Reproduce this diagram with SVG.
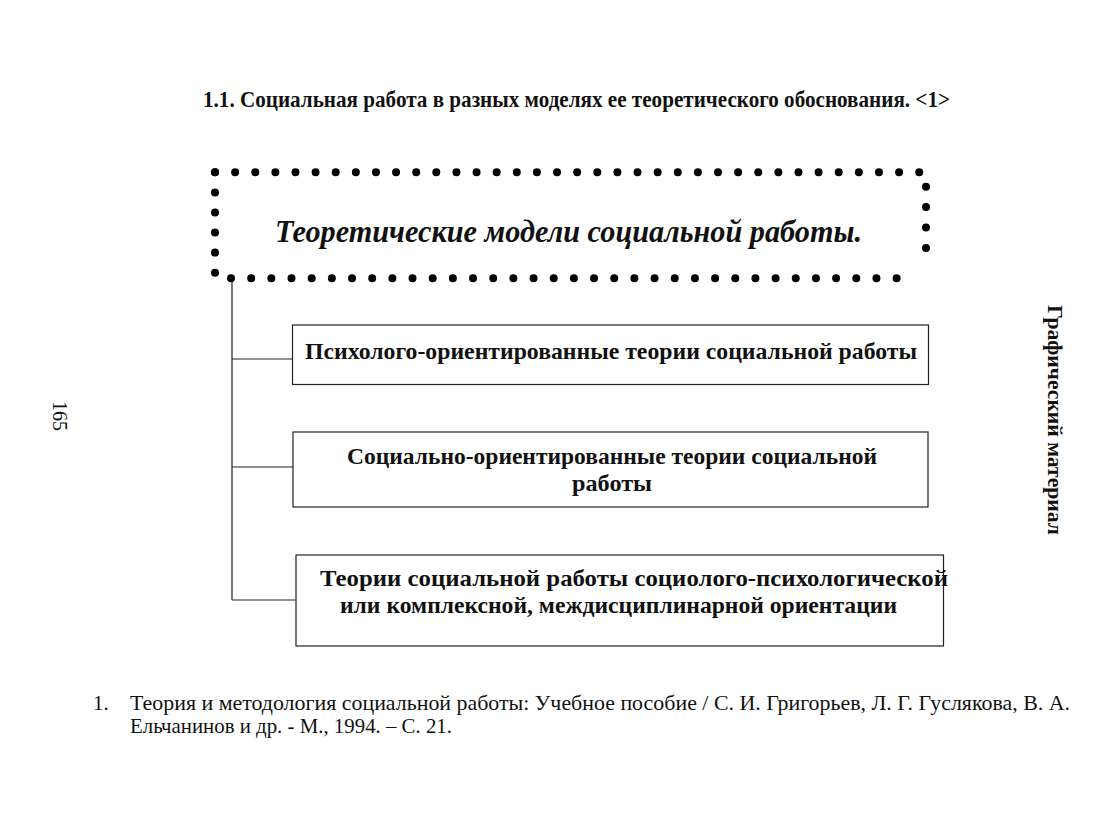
<svg xmlns="http://www.w3.org/2000/svg" width="1101" height="827" viewBox="0 0 1101 827">
<defs>
<style>
.serif{font-family:"Liberation Serif","Times New Roman",serif;fill:#111}
.b{font-weight:bold}
.box{fill:none;stroke:#222;stroke-width:1.2}
.ln{stroke:#222;stroke-width:1.2;fill:none}
.dots{stroke:#000;stroke-width:8;stroke-linecap:round;fill:none}
</style>
</defs>
<rect width="1101" height="827" fill="#fff"/>
<text class="serif b" x="203" y="107" font-size="23" textLength="747" lengthAdjust="spacingAndGlyphs">1.1. Социальная работа в разных моделях ее теоретического обоснования. &lt;1&gt;</text>

<g id="connectors">
<path class="ln" d="M232,280 V600 M232,359 H292 M232,467 H293 M232,600 H296"/>
</g>

<g id="top">
<g id="dots">
<path class="dots" d="M215,172.3 L919.3,172.3" stroke-dasharray="0 20.12"/>
<path class="dots" d="M231,278.3 L916.7,278.3" stroke-dasharray="0 20.17"/>
<path class="dots" d="M215,172.3 L215,272.7" stroke-dasharray="0 20.08"/>
<path class="dots" d="M926,186.7 L926,268.3" stroke-dasharray="0 20.4"/>
</g>
<text class="serif b" x="275" y="242" font-size="31" font-style="italic" textLength="587" lengthAdjust="spacingAndGlyphs">Теоретические модели социальной работы.</text>
</g>

<g id="node1">
<rect class="box" x="292.5" y="325" width="636" height="59.5"/>
<text class="serif b" x="305" y="359" font-size="24" textLength="612" lengthAdjust="spacingAndGlyphs">Психолого-ориентированные теории социальной работы</text>
</g>

<g id="node2">
<rect class="box" x="293" y="432" width="635" height="75"/>
<text class="serif b" x="347" y="464" font-size="24" textLength="530" lengthAdjust="spacingAndGlyphs">Социально-ориентированные теории социальной</text>
<text class="serif b" x="612" y="491" font-size="24" text-anchor="middle" textLength="80" lengthAdjust="spacingAndGlyphs">работы</text>
</g>

<g id="node3">
<rect class="box" x="296" y="555" width="647.5" height="91"/>
<text class="serif b" x="320" y="586" font-size="24" textLength="628" lengthAdjust="spacingAndGlyphs">Теории социальной работы социолого-психологической</text>
<text class="serif b" x="340" y="613" font-size="24" textLength="557" lengthAdjust="spacingAndGlyphs">или комплексной, междисциплинарной ориентации</text>
</g>

<text class="serif b" transform="translate(1048,420) rotate(90)" font-size="21" text-anchor="middle" textLength="230" lengthAdjust="spacingAndGlyphs">Графический материал</text>
<text class="serif" transform="translate(53,416) rotate(90)" font-size="20" text-anchor="middle">165</text>

<text class="serif" x="93" y="710" font-size="21">1.</text>
<text class="serif" x="130" y="710" font-size="21" textLength="940" lengthAdjust="spacingAndGlyphs">Теория и методология социальной работы: Учебное пособие / С. И. Григорьев, Л. Г. Гуслякова, В. А.</text>
<text class="serif" x="130" y="733" font-size="21" textLength="322" lengthAdjust="spacingAndGlyphs">Ельчанинов и др. - М., 1994. – С. 21.</text>
</svg>
